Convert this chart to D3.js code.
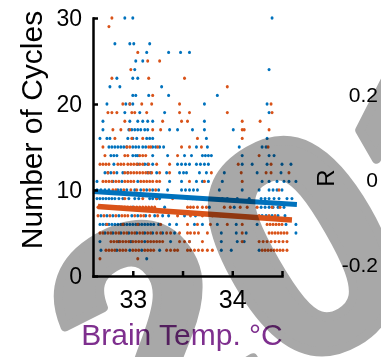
<!DOCTYPE html>
<html>
<head>
<meta charset="utf-8">
<script src="https://cdn.jsdelivr.net/npm/d3@7"></script>
<style>
  body { margin: 0; background: #fff; }
  svg { display: block; }
</style>
</head>
<body>
<div id="chart"></div>
<script>
// temperature axis ticks / labels
const xTicks = [33, 33.5, 34, 34.5]
const xTickLabels = ['33', '', '34', '']
const yTicks = [0, 10, 20, 30]
const rTicks = [-0.2, 0, 0.2]

// [number of cycles, brain temps]
const blueRows = [
  [30, [32.92, 33.0, 34.40]],
  [27, [32.82, 32.97, 33.01, 33.17]],
  [26, [33.14, 33.36, 33.48, 33.57]],
  [25, [33.03, 33.10]],
  [24, [33.02, 34.37]],
  [23, [32.84, 33.0, 33.05]],
  [22, [32.77, 32.87, 33.29]],
  [21, [33.0, 33.03, 33.16, 33.36, 33.85]],
  [20, [32.74, 32.93, 32.97, 33.0, 33.72, 34.35]],
  [19, [32.92, 33.07, 33.32, 34.37]],
  [18, [32.70, 32.97, 33.05, 33.10, 33.15, 33.20, 33.72]],
  [17, [32.70, 32.96, 32.99, 33.02, 33.05, 33.08, 33.12, 33.15, 33.37, 33.45, 33.60, 33.72, 34.01]],
  [16, [32.67, 32.74, 32.77, 32.95, 33.0, 33.04, 33.14, 33.17, 33.20, 33.74, 34.35]],
  [15, [32.76, 32.79, 32.82, 32.85, 32.88, 32.91, 32.94, 33.0, 33.03, 33.06, 33.10, 33.13, 33.20, 33.23, 33.27, 33.31, 33.64, 33.75, 34.07, 34.30, 34.34]],
  [14, [32.78, 32.81, 32.84, 33.0, 33.03, 33.05, 33.20, 33.35, 33.52, 33.59, 33.70, 33.73, 33.76, 33.79, 34.10, 34.37, 34.42]],
  [13, [32.81, 33.05, 33.12, 33.15, 33.20, 33.45, 33.49, 33.53, 33.57, 33.64, 33.68, 33.72, 33.76, 34.10, 34.20, 34.35, 34.50, 34.59]],
  [12, [32.72, 32.75, 32.78, 32.84, 32.90, 32.95, 33.15, 33.18, 33.24, 33.34, 33.47, 33.51, 33.54, 33.67, 33.74, 33.92, 34.25, 34.49]],
  [11, [32.64, 32.80, 32.89, 33.05, 33.37, 33.49, 33.64, 33.70, 33.76, 33.90, 34.30, 34.37, 34.45, 34.52, 34.57, 34.64]],
  [10, [32.64, 32.68, 32.72, 32.76, 32.85, 32.88, 32.94, 33.02, 33.08, 33.14, 33.20, 33.26, 33.35, 33.49, 33.53, 33.57, 33.61, 33.65, 33.87, 34.10, 34.27, 34.37, 34.41, 34.45, 34.50]],
  [9, [32.64, 32.67, 32.70, 32.73, 32.76, 32.79, 32.82, 32.86, 32.90, 32.96, 33.02, 33.06, 33.17, 33.20, 33.24, 33.27, 33.55, 33.60, 33.64, 33.70, 33.74, 33.86, 33.90, 33.95, 34.05, 34.17, 34.29, 34.33, 34.37, 34.42, 34.47, 34.55, 34.60]],
  [8, [32.73, 32.87, 33.00, 33.32, 33.77, 34.02, 34.29, 34.33, 34.37, 34.41, 34.46, 34.52]],
  [7, [32.68, 32.74, 32.80, 32.86, 32.99, 33.05, 33.13, 33.22, 33.30, 33.36, 33.52, 33.63, 33.88, 34.12, 34.30, 34.34, 34.40, 34.46, 34.53]],
  [6, [32.67, 32.70, 32.73, 32.76, 32.79, 32.82, 32.85, 32.88, 32.91, 32.94, 32.97, 33.00, 33.03, 33.06, 33.09, 33.12, 33.15, 33.18, 33.21, 33.26, 33.37, 33.44, 33.62, 33.70, 33.85, 34.04, 34.25, 34.54, 34.64]],
  [5, [32.72, 32.80, 32.88, 32.96, 33.04, 33.12, 33.20, 33.30, 33.42, 33.89, 34.04, 34.14, 34.64]],
  [4, [32.67, 32.86, 32.98, 33.12, 33.38, 33.57, 33.89, 34.05, 34.12]],
  [3, [32.68, 32.84, 32.97, 33.09, 33.27, 33.89, 33.99, 34.27]],
  [2, [33.14]]
]

const orangeRows = [
  [30, [32.79]],
  [29, [32.76]],
  [26, [33.05]],
  [25, [33.15, 33.27]],
  [24, [32.98]],
  [23, [32.79, 33.16, 33.52]],
  [22, [33.95]],
  [21, [33.20]],
  [20, [32.90, 32.97, 33.09, 33.19, 33.47, 34.39]],
  [19, [32.75, 32.79, 32.84, 32.99, 33.02, 33.14, 33.47, 33.57, 33.95, 34.40]],
  [18, [32.92, 33.30, 33.49, 33.55, 34.10, 34.28]],
  [17, [32.80, 32.88, 32.97, 33.20, 33.28, 34.10, 34.12, 34.37]],
  [16, [32.82, 32.99, 33.10, 33.65, 34.10]],
  [15, [32.70, 32.94, 32.97, 33.16, 33.18, 33.25, 33.49, 33.57, 33.69, 34.36]],
  [14, [32.72, 32.92, 32.95, 33.07, 33.10, 33.13, 33.45, 34.27]],
  [13, [32.67, 32.70, 32.73, 32.76, 32.85, 32.88, 32.91, 32.95, 32.98, 33.01, 33.04, 33.07, 33.10, 33.16, 33.24, 33.37, 34.06, 34.39]],
  [12, [32.75, 32.81, 32.92, 32.95, 32.98, 33.01, 33.04, 33.07, 33.10, 33.13, 33.16, 33.19, 33.27, 33.37, 33.79, 34.09, 34.34, 34.39, 34.57]],
  [11, [32.70, 32.73, 32.76, 32.79, 32.83, 32.86, 32.92, 32.95, 32.98, 33.01, 33.08, 33.11, 33.14, 33.17, 33.20, 33.24, 33.27, 33.57, 33.72, 34.10]],
  [10, [32.80, 32.83, 32.91, 32.98, 33.04, 33.11, 33.17, 33.23, 34.47]],
  [9, [32.92, 33.10, 33.24, 33.40, 33.80]],
  [8, [32.65, 32.68, 32.71, 32.74, 32.77, 32.80, 32.83, 32.86, 32.89, 32.92, 32.95, 32.98, 33.01, 33.04, 33.07, 33.10, 33.13, 33.16, 33.19, 33.22, 33.55, 33.58, 33.61, 33.65, 33.70, 33.74, 33.92, 33.98, 34.08, 34.15, 34.25, 34.40, 34.48]],
  [7, [32.65, 32.71, 32.77, 32.83, 32.89, 32.92, 32.95, 33.02, 33.08, 33.11, 33.17, 33.25, 33.45, 33.58, 33.70, 33.80, 34.05, 34.27, 34.37, 34.43]],
  [6, [32.74, 32.90, 33.05, 33.28, 33.55, 33.65, 33.78, 33.95, 34.10, 34.35, 34.38, 34.41, 34.44, 34.47, 34.50]],
  [5, [32.67, 32.70, 32.75, 32.78, 32.83, 32.86, 32.91, 32.94, 32.99, 33.02, 33.07, 33.10, 33.15, 33.18, 33.24, 33.28, 33.34, 33.38, 33.47, 33.55, 33.58, 33.62, 33.66, 33.75, 34.10, 34.37, 34.40, 34.43, 34.46, 34.49, 34.52, 34.55]],
  [4, [32.78, 32.81, 32.84, 32.87, 32.90, 32.93, 32.96, 33.00, 33.03, 33.06, 33.09, 33.15, 33.18, 33.21, 33.24, 33.27, 33.30, 33.47, 33.52, 33.57, 33.70, 34.10, 34.27, 34.31, 34.35, 34.39, 34.43, 34.47, 34.51, 34.55]],
  [3, [32.73, 32.76, 32.79, 32.82, 32.87, 32.90, 32.93, 33.00, 33.03, 33.06, 33.12, 33.15, 33.18, 33.21, 33.34, 33.38, 33.42, 33.45, 33.55, 33.58, 33.62, 33.66, 33.70, 33.75, 33.80, 34.30, 34.33, 34.36, 34.39, 34.42, 34.45, 34.48, 34.51, 34.55]],
  [2, [32.67, 33.05]]
]

// linear fits, [temp, cycles] at both ends
const blueFit = [[32.6, 9.83], [34.65, 8.31]]
const orangeFit = [[32.65, 8.08], [34.6, 6.51]]

const width = 381
const height = 357
const font = '"Liberation Sans", Arial, sans-serif'
const blue = '#0072BD'
const orange = '#D95319'

const svg = d3.select('#chart').append('svg')
  .attr('width', width)
  .attr('height', height)
  .attr('font-family', font)

const x = d3.scaleLinear().domain([32.6, 34.5]).range([93, 282])
const y = d3.scaleLinear().domain([0, 30]).range([276, 18])
const r = d3.scaleLinear().domain([-0.2, 0.2]).range([265, 95])

const flatten = (rows) => rows.flatMap(([c, temps]) => temps.map((t) => ({ t, c })))

// scatter
const dots = svg.append('g')
dots.selectAll('.b').data(flatten(blueRows)).enter().append('ellipse')
  .attr('class', 'b')
  .attr('cx', (d) => x(d.t)).attr('cy', (d) => y(d.c))
  .attr('rx', 1.5).attr('ry', 1.7)
  .attr('fill', blue)
dots.selectAll('.o').data(flatten(orangeRows)).enter().append('ellipse')
  .attr('class', 'o')
  .attr('cx', (d) => x(d.t)).attr('cy', (d) => y(d.c))
  .attr('rx', 1.5).attr('ry', 1.7)
  .attr('fill', orange)

// fit lines
const line = d3.line().x((d) => x(d[0])).y((d) => y(d[1]))
svg.append('path').attr('d', line(blueFit)).attr('stroke', blue).attr('stroke-width', 5).attr('fill', 'none')
svg.append('path').attr('d', line(orangeFit)).attr('stroke', orange).attr('stroke-width', 5.5).attr('fill', 'none')

// axes, ticks inward
function styleAxis(g, size) {
  g.select('.domain').attr('stroke', '#000').attr('stroke-width', 2.5).attr('stroke-linecap', 'square')
  g.selectAll('.tick line').attr('stroke', '#000').attr('stroke-width', 2.5)
  g.selectAll('.tick text').attr('fill', '#000').attr('font-size', size).attr('font-family', font)
}

const xAxis = svg.append('g')
  .attr('transform', `translate(0,${y(0)})`)
  .call(d3.axisBottom(x).tickValues(xTicks).tickSizeInner(-5).tickSizeOuter(0).tickPadding(14)
    .tickFormat((d, i) => xTickLabels[i]))
styleAxis(xAxis, 25)

const yAxis = svg.append('g')
  .attr('transform', `translate(${x(32.6)},0)`)
  .call(d3.axisLeft(y).tickValues(yTicks).tickSizeInner(-5).tickSizeOuter(0).tickPadding(11)
    .tickFormat(d3.format('d')))
styleAxis(yAxis, 23)

// second panel's R axis, cut by the right edge
const rAxis = svg.append('g')
  .attr('transform', 'translate(388,0)')
  .call(d3.axisLeft(r).tickValues(rTicks).tickSize(0).tickPadding(10)
    .tickFormat((d) => String(d)))
rAxis.select('.domain').remove()
rAxis.selectAll('.tick text').attr('font-size', 21).attr('font-family', font).attr('fill', '#000')

svg.append('text')
  .attr('transform', 'translate(334,178) rotate(-90)')
  .attr('text-anchor', 'middle')
  .attr('font-size', 24)
  .text('R')

svg.append('text')
  .attr('transform', 'translate(42,130) rotate(-90)')
  .attr('text-anchor', 'middle')
  .attr('font-size', 30)
  .text('Number of Cycles')

svg.append('text')
  .attr('x', 182).attr('y', 345)
  .attr('text-anchor', 'middle')
  .attr('font-size', 30)
  .attr('fill', '#7E2F8E')
  .text('Brain Temp. °C')

// watermark on top, multiplied
svg.append('text')
  .attr('transform', 'translate(132,468) rotate(-30)')
  .attr('font-size', 310)
  .attr('font-weight', 'bold')
  .attr('fill', '#a8a8a8')
  .attr('stroke', '#a8a8a8')
  .attr('stroke-width', 9)
  .attr('stroke-linejoin', 'round')
  .style('mix-blend-mode', 'multiply')
  .text('2019')
</script>
</body>
</html>
